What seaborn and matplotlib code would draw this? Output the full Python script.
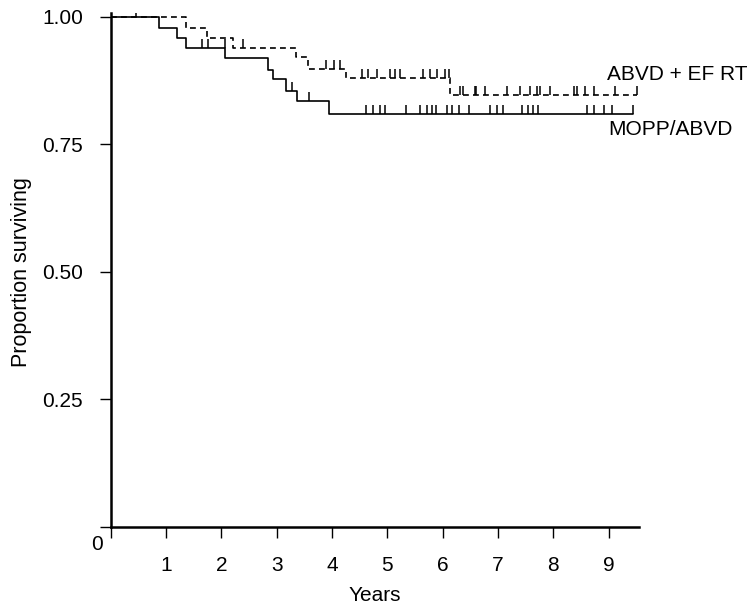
import matplotlib
matplotlib.use('Agg')
import matplotlib.pyplot as plt
import seaborn as sns
import pandas as pd
import numpy as np

sns.set_style('ticks', {'axes.edgecolor': 'black', 'text.color': 'black',
                        'axes.labelcolor': 'black', 'xtick.color': 'black',
                        'ytick.color': 'black'})
plt.rcParams['font.family'] = ['Liberation Sans', 'DejaVu Sans']

# Datos (tiempo en anos, proporcion)
mopp_times = [0, 0.87, 1.20, 1.37, 2.07, 2.84, 2.93, 3.16, 3.36, 3.95, 9.44]
mopp_surv = [1.0, 0.978, 0.957, 0.939, 0.919, 0.896, 0.878, 0.855, 0.835, 0.81, 0.81]
mopp_censor = [0.46, 1.65, 1.76, 2.06, 3.27, 3.59, 4.62, 4.74, 4.87, 4.96, 5.34,
               5.59, 5.71, 5.80, 5.88, 6.08, 6.17, 6.29, 6.47, 6.86, 6.98, 7.10,
               7.43, 7.55, 7.64, 7.73, 8.61, 8.73, 8.91, 9.06, 9.44]

abvd_times = [0, 1.36, 1.74, 2.21, 3.35, 3.57, 4.25, 6.14, 9.51]
abvd_surv = [1.0, 0.978, 0.958, 0.939, 0.921, 0.897, 0.88, 0.847, 0.847]
abvd_censor = [2.40, 3.89, 4.03, 4.15, 4.54, 4.66, 4.81, 5.05, 5.14, 5.23, 5.65,
               5.77, 5.90, 6.05, 6.12, 6.32, 6.37, 6.58, 6.61, 6.77, 7.16, 7.40,
               7.58, 7.70, 7.76, 7.94, 8.37, 8.43, 8.58, 8.73, 9.12, 9.51]

x_ticks = [0, 1, 2, 3, 4, 5, 6, 7, 8, 9]
x_labels = ['', '1', '2', '3', '4', '5', '6', '7', '8', '9']
y_ticks = [0, 0.25, 0.50, 0.75, 1.00]
y_labels = ['', '0.25', '0.50', '0.75', '1.00']

fig = plt.figure(figsize=(7.5, 6.09), dpi=100)
ax = fig.add_axes([0.1476, 0.1346, 0.852 - 0.1476, 0.9787 - 0.1346])

df_mopp = pd.DataFrame({'t': mopp_times, 's': mopp_surv})
df_abvd = pd.DataFrame({'t': abvd_times, 's': abvd_surv})

sns.lineplot(data=df_mopp, x='t', y='s', ax=ax, drawstyle='steps-post',
             color='black', lw=1.2, estimator=None)
sns.lineplot(data=df_abvd, x='t', y='s', ax=ax, drawstyle='steps-post',
             color='black', lw=1.2, estimator=None, dashes=False,
             linestyle=(0, (3.5, 2.5)))


def censor_marks(times, surv, cens):
    idx = np.searchsorted(times, cens, side='right') - 1
    lev = np.array(surv)[idx]
    ax.vlines(cens, lev, lev + 0.017, color='black', lw=1.1)


censor_marks(mopp_times, mopp_surv, mopp_censor)
censor_marks(abvd_times, abvd_surv, abvd_censor)

ax.text(8.97, 0.886, 'ABVD + EF RT', fontsize=15, ha='left', va='center')
ax.text(8.99, 0.778, 'MOPP/ABVD', fontsize=15, ha='left', va='center')
ax.text(-0.25, -0.035, '0', fontsize=15, ha='center', va='center', clip_on=False)

ax.set_xlim(0, 9.55)
ax.set_ylim(0, 1.007)
ax.set_xticks(x_ticks)
ax.set_xticklabels(x_labels)
ax.set_yticks(y_ticks)
ax.set_yticklabels(y_labels)
ax.tick_params(axis='x', direction='out', length=8, width=1, pad=13, labelsize=15)
ax.tick_params(axis='y', direction='out', length=8, width=1, pad=12, labelsize=15)
ax.set_xlabel('Years', fontsize=15, labelpad=8)
ax.set_ylabel('Proportion surviving', fontsize=15.5)
ax.yaxis.set_label_coords(-0.149, 0.496)

sns.despine(ax=ax)
for sp in ['left', 'bottom']:
    ax.spines[sp].set_linewidth(1.8)

fig.savefig('out.png', dpi=100)
